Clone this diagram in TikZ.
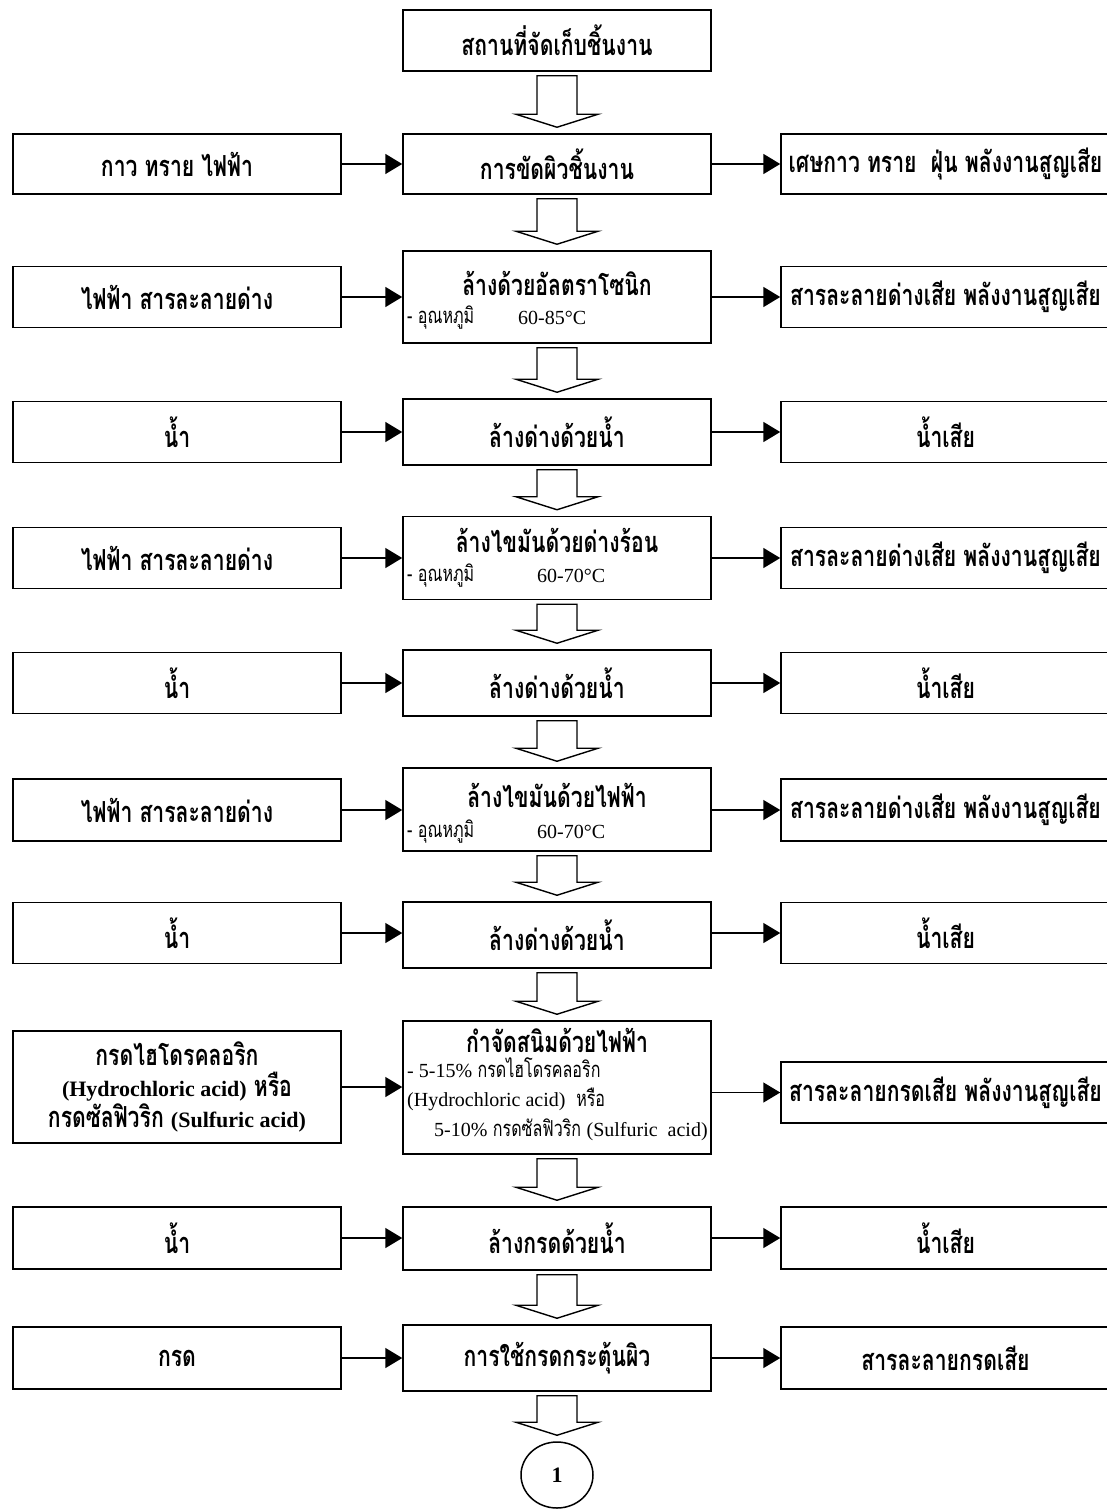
\documentclass[tikz,border=0pt]{standalone}
\usepackage{fontspec}
\setmainfont{Liberation Serif}
\newfontfamily\thai[Script=Thai,FakeStretch=0.73]{Loma}
\usetikzlibrary{arrows.meta,calc,shapes.geometric}
\newcommand\blkarrow[2]{%
  \draw[blk] ($(#1.south)+(-20,4)$) -- ($(#1.south)+(20,4)$) -- ($(#2.north)+(20,-19)$)
    -- ($(#2.north)+(41,-19)$) -- ($(#2.north)+(0,-6)$) -- ($(#2.north)+(-41,-19)$)
    -- ($(#2.north)+(-20,-19)$) -- cycle;}
\begin{document}
\begin{tikzpicture}[x=1pt,y=-1pt,
  box/.style={draw, line width=1.5pt, inner sep=0pt, align=center,
    font=\thai\bfseries\fontsize{29}{31}\selectfont},
  lbox/.style={box, minimum width=328pt},
  rbox/.style={box, minimum width=329pt},
  mbox/.style={box, minimum width=308pt},
  conn/.style={line width=1.6pt, -{Triangle[length=17pt,width=20pt]}},
  blk/.style={draw, line width=1.4pt, fill=white, line join=miter},
  ttl/.style={inner sep=0pt, font=\thai\bfseries\fontsize{29}{31}\selectfont},
  sub/.style={anchor=west, inner sep=0pt, font=\thai\fontsize{22}{24}\selectfont},
]
\useasboundingbox (0,0) rectangle (1107,1511);

% row 0
\node[mbox, minimum height=61pt] (m0) at (557,40.5) {สถานที่จัดเก็บชิ้นงาน};

% row 1
\node[lbox, minimum height=60pt] (l1) at (177,164) {กาว ทราย ไฟฟ้า};
\node[mbox, minimum height=60pt] (m1) at (557,164) {การขัดผิวชิ้นงาน};
\node[rbox, minimum height=60pt] (r1) at (945.5,164) {เศษกาว ทราย \ ฝุ่น พลังงานสูญเสีย};

% row 2
\node[lbox, minimum height=61pt] (l2) at (177,297) {ไฟฟ้า สารละลายด่าง};
\node[mbox, minimum height=92pt] (m2) at (557,297) {};
\node[ttl] (t2) at (557,283) {ล้างด้วยอัลตราโซนิก};
\node[sub] (s2a) at (407,318) {- อุณหภูมิ};
\node[sub] (s2b) at (518,318) {\rmfamily\fontsize{20}{22}\selectfont 60-85°C};
\node[rbox, minimum height=61pt] (r2) at (945.5,297) {สารละลายด่างเสีย พลังงานสูญเสีย};

% row 3
\node[lbox, minimum height=61pt] (l3) at (177,432) {น้ำ};
\node[mbox, minimum height=66pt] (m3) at (557,432) {ล้างด่างด้วยน้ำ};
\node[rbox, minimum height=61pt] (r3) at (945.5,432) {น้ำเสีย};

% row 4
\node[lbox, minimum height=61pt] (l4) at (177,558) {ไฟฟ้า สารละลายด่าง};
\node[mbox, minimum height=83pt] (m4) at (557,558) {};
\node[ttl] (t4) at (557,540) {ล้างไขมันด้วยด่างร้อน};
\node[sub] (s4a) at (407,576) {- อุณหภูมิ};
\node[sub] (s4b) at (537,576) {\rmfamily\fontsize{20}{22}\selectfont 60-70°C};
\node[rbox, minimum height=61pt] (r4) at (945.5,558) {สารละลายด่างเสีย พลังงานสูญเสีย};

% row 5
\node[lbox, minimum height=61pt] (l5) at (177,683) {น้ำ};
\node[mbox, minimum height=66pt] (m5) at (557,683) {ล้างด่างด้วยน้ำ};
\node[rbox, minimum height=61pt] (r5) at (945.5,683) {น้ำเสีย};

% row 6
\node[lbox, minimum height=62pt] (l6) at (177,810) {ไฟฟ้า สารละลายด่าง};
\node[mbox, minimum height=83pt] (m6) at (557,809.5) {};
\node[ttl] (t6) at (557,795) {ล้างไขมันด้วยไฟฟ้า};
\node[sub] (s6a) at (407,832) {- อุณหภูมิ};
\node[sub] (s6b) at (537,832) {\rmfamily\fontsize{20}{22}\selectfont 60-70°C};
\node[rbox, minimum height=62pt] (r6) at (945.5,810) {สารละลายด่างเสีย พลังงานสูญเสีย};

% row 7
\node[lbox, minimum height=61pt] (l7) at (177,933) {น้ำ};
\node[mbox, minimum height=66pt] (m7) at (557,935) {ล้างด่างด้วยน้ำ};
\node[rbox, minimum height=61pt] (r7) at (945.5,933) {น้ำเสีย};

% row 8
\node[lbox, minimum height=112pt] (l8) at (177,1087) {กรดไฮโดรคลอริก\\
  {\rmfamily\bfseries\fontsize{22}{24}\selectfont (Hydrochloric acid)} หรือ\\
  กรดซัลฟิวริก {\rmfamily\bfseries\fontsize{22}{24}\selectfont (Sulfuric acid)}};
\node[mbox, minimum height=133pt] (m8) at (557,1087.5) {};
\node[ttl] (t8) at (557,1040) {กำจัดสนิมด้วยไฟฟ้า};
\node[sub] (s8a) at (407,1068) {{\rmfamily\fontsize{20}{22}\selectfont - 5-15\%} กรดไฮโดรคลอริก};
\node[sub] (s8b) at (407,1099) {{\rmfamily\fontsize{20}{22}\selectfont (Hydrochloric acid)}\ \ หรือ};
\node[sub] (s8c) at (434,1130) {{\rmfamily\fontsize{20}{22}\selectfont 5-10\%} กรดซัลฟิวริก {\rmfamily\fontsize{20}{22}\selectfont (Sulfuric\ \ acid)}};
\node[rbox, minimum height=61pt] (r8) at (945.5,1092.5) {สารละลายกรดเสีย พลังงานสูญเสีย};

% row 9
\node[lbox, minimum height=62pt] (l9) at (177,1238) {น้ำ};
\node[mbox, minimum height=63pt] (m9) at (557,1238.5) {ล้างกรดด้วยน้ำ};
\node[rbox, minimum height=62pt] (r9) at (945.5,1238) {น้ำเสีย};

% row 10
\node[lbox, minimum height=62pt] (l10) at (177,1358) {กรด};
\node[mbox, minimum height=66pt] (m10) at (557,1358) {การใช้กรดกระตุ้นผิว};
\node[rbox, minimum height=62pt] (r10) at (945.5,1358) {สารละลายกรดเสีย};

% end connector
\node[draw, ellipse, line width=1.5pt, minimum width=72pt, minimum height=66pt, inner sep=0pt,
  font=\rmfamily\bfseries\fontsize{22}{24}\selectfont] (c1) at (557,1475) {1};

% horizontal connectors
\foreach \i in {1,...,10}{
  \draw[conn] (l\i.east) -- (m\i.west |- l\i.east);
  \draw[conn] (m\i.east |- r\i.west) -- (r\i.west);
}

% block arrows
\blkarrow{m0}{m1}
\blkarrow{m1}{m2}
\blkarrow{m2}{m3}
\blkarrow{m3}{m4}
\blkarrow{m4}{m5}
\blkarrow{m5}{m6}
\blkarrow{m6}{m7}
\blkarrow{m7}{m8}
\blkarrow{m8}{m9}
\blkarrow{m9}{m10}
\blkarrow{m10}{c1}
\end{tikzpicture}
\end{document}
